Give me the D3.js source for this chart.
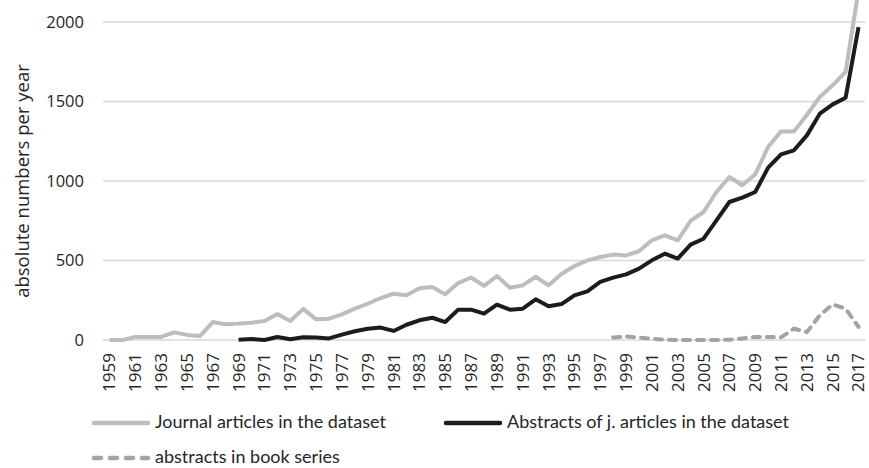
<!DOCTYPE html>
<html>
<head>
<meta charset="utf-8">
<script src="https://cdnjs.cloudflare.com/ajax/libs/d3/7.8.5/d3.min.js"></script>
<style>
  body { margin: 0; background: #fff; }
</style>
</head>
<body>
<script>
// Chart data
var years = d3.range(1959, 2018);

var journalArticles = [0, 0, 19, 19, 19, 48, 32, 25, 113, 99,
  103, 109, 120, 163, 120, 196, 130, 134, 161, 197,
  228, 264, 291, 281, 325, 333, 287, 358, 393, 340,
  402, 329, 344, 398, 344, 415, 465, 500, 522, 537,
  532, 558, 627, 658, 627, 750, 805, 931, 1025, 973,
  1042, 1214, 1312, 1312, 1417, 1528, 1602, 1686, 2200];

// abstracts start in 1969 (null before)
var journalAbstracts = [null, null, null, null, null, null, null, null, null, null,
  2, 6, 0, 19, 5, 17, 15, 10, 34, 55,
  71, 78, 57, 96, 124, 140, 113, 191, 191, 166,
  222, 191, 197, 256, 212, 226, 281, 306, 365, 392,
  413, 449, 501, 543, 512, 600, 637, 753, 868, 895,
  931, 1084, 1168, 1193, 1287, 1423, 1482, 1524, 1968];

// book series start in 1998
var bookAbstracts = [null, null, null, null, null, null, null, null, null, null,
  null, null, null, null, null, null, null, null, null, null,
  null, null, null, null, null, null, null, null, null, null,
  null, null, null, null, null, null, null, null, null, 15,
  22, 15, 8, 2, 0, 0, 0, 0, 2, 10,
  19, 19, 17, 71, 50, 155, 224, 197, 82];

var yTicks = [0, 500, 1000, 1500, 2000];

var seriesNames = ["Journal articles in the dataset",
  "Abstracts of j. articles in the dataset",
  "abstracts in book series"];

// SVG size
var svgWidth = 869;
var svgHeight = 468;

var margin = { top: 22, right: 4, bottom: 128, left: 103 };

var textColor = "#262626";

var svg = d3.select("body")
  .append("svg")
  .attr("width", svgWidth)
  .attr("height", svgHeight);

// scales
var xScale = d3.scaleBand()
  .domain(years)
  .range([margin.left, svgWidth - margin.right]);

var yScale = d3.scaleLinear()
  .domain([0, 2000])
  .range([svgHeight - margin.bottom, margin.top]);

var xMid = d => xScale(d) + xScale.bandwidth() / 2;

// gridlines
svg.append("g")
  .selectAll("line")
  .data(yTicks)
  .enter()
  .append("line")
  .attr("x1", margin.left)
  .attr("x2", svgWidth - margin.right)
  .attr("y1", d => yScale(d))
  .attr("y2", d => yScale(d))
  .attr("stroke", "#d9d9d9")
  .attr("stroke-width", 1.3);

// y axis labels
var yAxis = d3.axisLeft(yScale)
  .tickValues(yTicks)
  .tickFormat(d3.format("d"))
  .tickSize(0)
  .tickPadding(0);
svg.append("g")
  .attr("transform", `translate(${margin.left - 19}, 0)`)
  .call(yAxis)
  .call(g => g.select(".domain").remove())
  .selectAll("text")
  .style("font-family", "'Open Sans', sans-serif")
  .style("font-size", "16.5px")
  .style("fill", textColor);

// y axis title
svg.append("text")
  .attr("transform", `translate(29, ${yScale(1000)}) rotate(-90)`)
  .attr("text-anchor", "middle")
  .style("font-family", "'Open Sans', sans-serif")
  .style("font-size", "18.5px")
  .style("fill", textColor)
  .text("absolute numbers per year");

// x axis labels, every second year
var xAxis = d3.axisBottom(xScale)
  .tickValues(years.filter(y => (y - 1959) % 2 === 0))
  .tickSize(0)
  .tickPadding(0);
svg.append("g")
  .attr("transform", `translate(0, ${yScale(0)})`)
  .call(xAxis)
  .call(g => g.select(".domain").remove())
  .selectAll("text")
  .style("font-family", "'Open Sans', sans-serif")
  .style("font-size", "17px")
  .style("fill", textColor)
  .attr("text-anchor", "end")
  .attr("transform", "rotate(-90)")
  .attr("x", -13)
  .attr("y", 0)
  .attr("dy", "0.35em");

// line generator
function drawLine(values) {
  return d3.line()
    .defined((d, i) => values[i] !== null)
    .x((d, i) => xMid(years[i]))
    .y((d, i) => yScale(values[i]))
    .curve(d3.curveLinear)(values);
}

svg.append("path")
  .attr("d", drawLine(journalArticles))
  .attr("fill", "none")
  .attr("stroke", "#bdbdbf")
  .attr("stroke-width", 4)
  .attr("stroke-linejoin", "round");

svg.append("path")
  .attr("d", drawLine(journalAbstracts))
  .attr("fill", "none")
  .attr("stroke", "#1c1c1c")
  .attr("stroke-width", 4)
  .attr("stroke-linejoin", "round");

svg.append("path")
  .attr("d", drawLine(bookAbstracts))
  .attr("fill", "none")
  .attr("stroke", "#a3a3a6")
  .attr("stroke-width", 4)
  .attr("stroke-linecap", "round")
  .attr("stroke-dasharray", "7,7");

// legend
var legendItems = [
  { name: seriesNames[0], x: 92, y: 423, color: "#bdbdbf", dash: null },
  { name: seriesNames[1], x: 444, y: 423, color: "#1c1c1c", dash: null },
  { name: seriesNames[2], x: 92, y: 458, color: "#a3a3a6", dash: "7,9" }
];

var legend = svg.append("g").attr("class", "legend");

legendItems.forEach(function(item) {
  legend.append("line")
    .attr("x1", item.x + 2)
    .attr("x2", item.x + 56)
    .attr("y1", item.y)
    .attr("y2", item.y)
    .attr("stroke", item.color)
    .attr("stroke-width", 4.5)
    .attr("stroke-linecap", "round")
    .attr("stroke-dasharray", item.dash);
  legend.append("text")
    .attr("x", item.x + 63)
    .attr("y", item.y)
    .attr("dy", "0.3em")
    .style("font-family", "Lato, sans-serif")
    .style("font-size", "18px")
    .style("fill", textColor)
    .text(item.name);
});
</script>
</body>
</html>
